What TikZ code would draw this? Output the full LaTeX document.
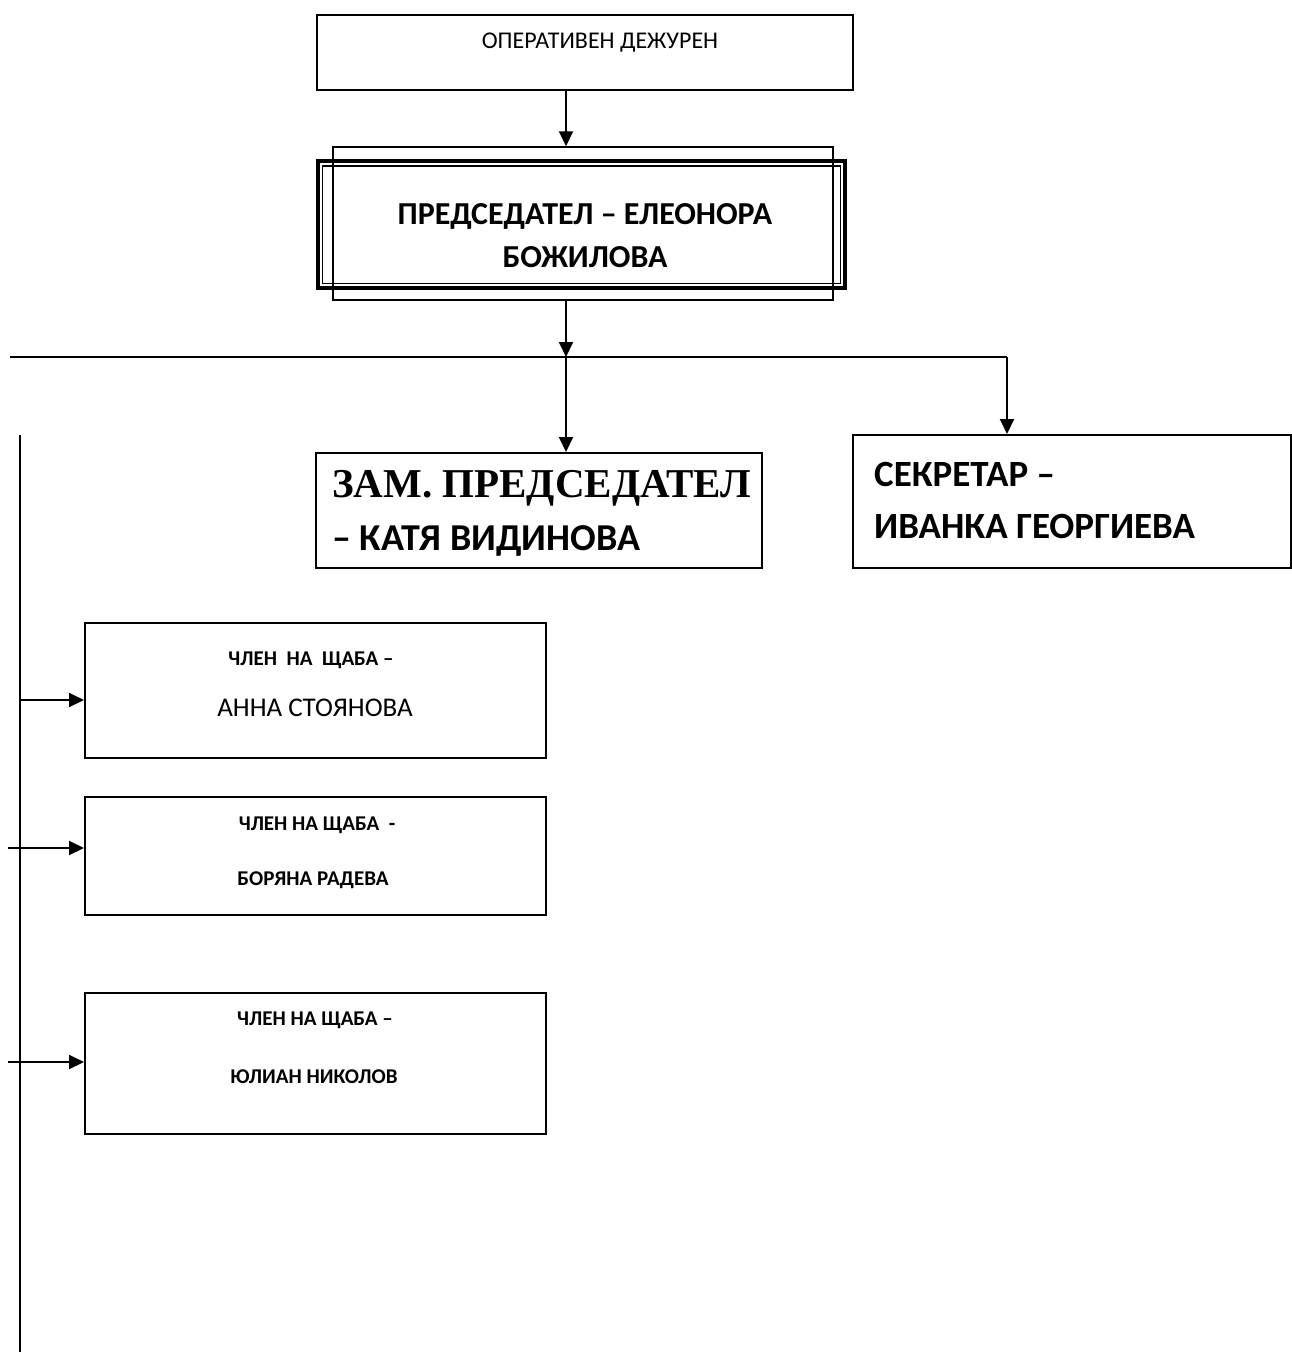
\documentclass[tikz,border=0pt]{standalone}
\usepackage{fontspec}
\setmainfont{Carlito}
\newfontfamily\timesfont{Liberation Serif}
\usetikzlibrary{arrows.meta}

\tikzset{
  frame/.style={draw,line width=2pt,inner sep=0pt},
  arr/.style={line width=2pt,-{Triangle[length=15pt,width=14pt]}},
  bus/.style={line width=2pt},
  memhead/.style={font=\fontsize{21}{24}\selectfont\bfseries},
  bigbold/.style={font=\fontsize{37}{42}\selectfont\bfseries,anchor=base west,inner sep=0pt},
}

\begin{document}
\begin{tikzpicture}[x=1pt,y=-1pt]
            \useasboundingbox (0,0) rectangle (1291,1352);

            % Duty officer box
            \node [frame,minimum width=536pt,minimum height=75pt] (duty) at (585,52.5) {};
            \node [font=\fontsize{24}{28}\selectfont] (dutytxt) at (600,43) {ОПЕРАТИВЕН ДЕЖУРЕН};

            % Chairman: thin frame and double frame
            \node [draw,line width=1.5pt,minimum width=500pt,minimum height=153pt] (chairframe) at (583,223.5) {};
            \node [draw,line width=4pt,minimum width=527pt,minimum height=127pt] (chair) at (581.5,224.5) {};
            \node [draw,line width=1.5pt,minimum width=518pt,minimum height=117.5pt] (chairin) at (581.5,224.75) {};
            \node [font=\fontsize{32}{43}\selectfont\bfseries,align=center] (chairtxt) at (585,236)
                  {ПРЕДСЕДАТЕЛ – ЕЛЕОНОРА\\БОЖИЛОВА};

            % Deputy and secretary
            \node [frame,minimum width=446pt,minimum height=115pt] (deputy) at (539,510.5) {};
            \node [bigbold,font=\timesfont\fontsize{41}{46}\selectfont\bfseries] (deputytxtA) at (332,497) {ЗАМ. ПРЕДСЕДАТЕЛ};
            \node [bigbold,font=\fontsize{38}{44}\selectfont\bfseries] (deputytxtB) at (332,550) {– КАТЯ ВИДИНОВА};
            \node [frame,minimum width=438pt,minimum height=133pt] (secretary) at (1072,501.5) {};
            \node [bigbold] (secretarytxtA) at (874,486) {СЕКРЕТАР –};
            \node [bigbold] (secretarytxtB) at (874,538) {ИВАНКА ГЕОРГИЕВА};

            % Members of the staff
            \node [frame,minimum width=461pt,minimum height=135pt] (memA) at (315.5,690.5) {};
            \node [memhead] (memAhead) at (311,660) {ЧЛЕН\ \ НА\ \ ЩАБА~–};
            \node [font=\fontsize{27}{30}\selectfont] (memAname) at (315,708) {АННА СТОЯНОВА};

            \node [frame,minimum width=461pt,minimum height=118pt] (memB) at (315.5,856) {};
            \node [memhead] (memBhead) at (317,825) {ЧЛЕН НА ЩАБА\ \ -};
            \node [memhead] (memBname) at (313,880) {БОРЯНА РАДЕВА};

            \node [frame,minimum width=461pt,minimum height=141pt] (memC) at (315.5,1063.5) {};
            \node [memhead] (memChead) at (315,1020) {ЧЛЕН НА ЩАБА~–};
            \node [memhead] (memCname) at (314,1077) {ЮЛИАН НИКОЛОВ};

            % Junction points
            \coordinate (trunk) at (566,357);
            \coordinate (busL) at (10,357);
            \coordinate (busR) at (1007,357);
            \coordinate (spineT) at (20,435);
            \coordinate (spineB) at (20,1352);
            \coordinate (tapA) at (20,700);
            \coordinate (tapB) at (8,848);
            \coordinate (tapC) at (8,1062);

            \draw [arr] (trunk |- duty.south) -- (trunk |- chairframe.north);
            \draw [arr] (trunk |- chairframe.south) -- (trunk);
            \draw [bus] (busL) -- (busR);
            \draw [arr] (trunk) -- (trunk |- deputy.north);
            \draw [arr] (busR) -- (busR |- secretary.north);
            \draw [bus] (spineT) -- (spineB);
            \draw [arr] (tapA) -- (tapA -| memA.west);
            \draw [arr] (tapB) -- (tapB -| memB.west);
            \draw [arr] (tapC) -- (tapC -| memC.west);

        \end{tikzpicture}
\end{document}
